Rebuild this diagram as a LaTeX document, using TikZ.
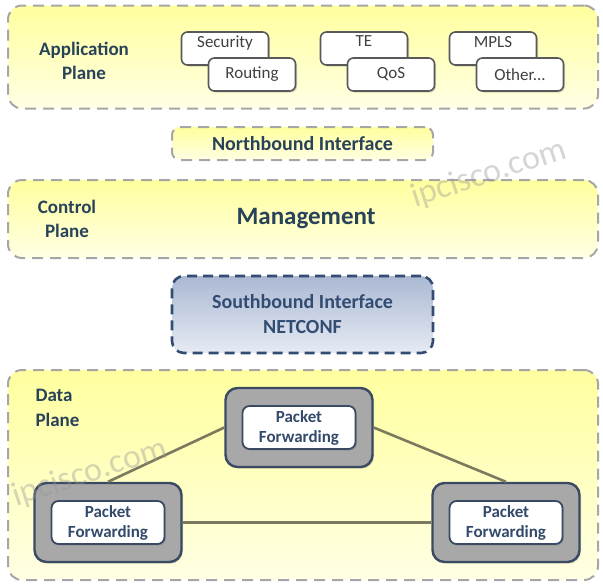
\documentclass[tikz,border=0pt]{standalone}
\usepackage{fontspec}
\setmainfont{Carlito}
\usetikzlibrary{shadows}
\definecolor{labelBlue}{RGB}{40,66,90}
\definecolor{dashGray}{RGB}{166,166,166}
\definecolor{planeTop}{RGB}{255,255,158}
\definecolor{planeBottom}{RGB}{255,255,228}
\definecolor{boxGray}{RGB}{89,89,89}
\definecolor{appText}{RGB}{64,64,64}
\definecolor{sbBorder}{RGB}{50,76,114}
\definecolor{sbTop}{RGB}{170,184,210}
\definecolor{sbBottom}{RGB}{230,235,244}
\definecolor{pfGray}{RGB}{168,168,168}
\definecolor{pfBorder}{RGB}{58,74,99}
\definecolor{pfText}{RGB}{52,74,106}
\definecolor{linkOlive}{RGB}{122,122,94}
\definecolor{markGray}{RGB}{150,150,150}
\begin{document}
\begin{tikzpicture}[
    x=1pt, y=-1pt,
    planeBox/.style={draw=dashGray, line width=2pt, dash pattern=on 11pt off 7pt, rounded corners=14pt,
        top color=planeTop, bottom color=planeBottom, minimum width=590pt},
    planeLabel/.style={text=labelBlue, font=\fontsize{19}{24}\selectfont\bfseries},
    appBox/.style={draw=boxGray, line width=1.6pt, rounded corners=6pt, fill=white,
        minimum width=87pt, minimum height=33pt, text=appText, font=\fontsize{17}{20}\selectfont,
        drop shadow={shadow xshift=1.5pt, shadow yshift=-1.5pt, opacity=0.35}},
    backBox/.style={appBox, text depth=14pt},
    pfOuter/.style={draw=pfBorder, line width=2.4pt, rounded corners=12pt, fill=pfGray,
        minimum width=147pt, minimum height=79pt,
        drop shadow={shadow xshift=1.5pt, shadow yshift=-1.5pt, opacity=0.3}},
    pfInner/.style={draw=pfBorder, line width=1.8pt, rounded corners=7pt, fill=white,
        minimum width=113pt, minimum height=43pt, align=center, text=pfText,
        font=\fontsize{17}{20}\selectfont\bfseries,
        drop shadow={shadow xshift=1.5pt, shadow yshift=-1.5pt, opacity=0.4}},
    link/.style={draw=linkOlive, line width=2.6pt},
    watermark/.style={text=markGray, text opacity=0.4, font=\fontsize{34}{34}\selectfont, rotate=18}
        ]
    \useasboundingbox (0,0) rectangle (603,584);

    \node[planeBox, minimum height=103pt] (app) at (303,57) {};
    \node[planeLabel, align=center] (appLabel) at (84,61) {Application\\Plane};
    \node[backBox] (security) at (225,48.5) {Security};
    \node[appBox, xshift=27pt, yshift=-26pt] (routing) at (security) {Routing};
    \node[backBox] (te) at (364,48.5) {TE};
    \node[appBox, xshift=27pt, yshift=-26pt] (qos) at (te) {QoS};
    \node[backBox] (mpls) at (493,48.5) {MPLS};
    \node[appBox, xshift=27pt, yshift=-26pt] (other) at (mpls) {Other...};

    \node[planeBox, minimum width=261pt, minimum height=33pt, rounded corners=8pt, planeLabel,
        font=\fontsize{20}{24}\selectfont\bfseries] (north) at (302.5,143.5) {Northbound Interface};

    \node[planeBox, minimum height=78pt] (control) at (303,219) {};
    \node[planeLabel, align=center] (controlLabel) at (67,219) {Control\\Plane};
    \node[text=labelBlue, font=\fontsize{25}{30}\selectfont\bfseries] (management) at (306,219) {Management};

    \node[draw=sbBorder, line width=2.6pt, dash pattern=on 10pt off 6pt, rounded corners=12pt,
        top color=sbTop, bottom color=sbBottom, minimum width=261pt, minimum height=77pt,
        align=center, text=sbBorder, font=\fontsize{20}{25}\selectfont\bfseries] (south) at (302.5,314.5) {Southbound Interface\\NETCONF};

    \node[planeBox, minimum height=210pt] (data) at (303,475) {};
    \node[planeLabel, align=left, anchor=north west, font=\fontsize{19}{25}\selectfont\bfseries] (dataLabel) at (32,386) {Data\\Plane};

    \node[pfOuter] (top) at (299,427.5) {};
    \node[pfOuter] (left) at (108,522.5) {};
    \node[pfOuter] (right) at (506,522.5) {};
    \node[pfInner] (topPF) at (top) {Packet\\Forwarding};
    \node[pfInner] (leftPF) at (left) {Packet\\Forwarding};
    \node[pfInner] (rightPF) at (right) {Packet\\Forwarding};

    \draw[link] (left.north) -- (top.west);
    \draw[link] (top.east) -- (right.north);
    \draw[link] (left.east) -- (right.west);

    \node[watermark] (mark) at (489,174) {ipcisco.com};
    \node[watermark] (mark2) at (90,473) {ipcisco.com};
\end{tikzpicture}
\end{document}
